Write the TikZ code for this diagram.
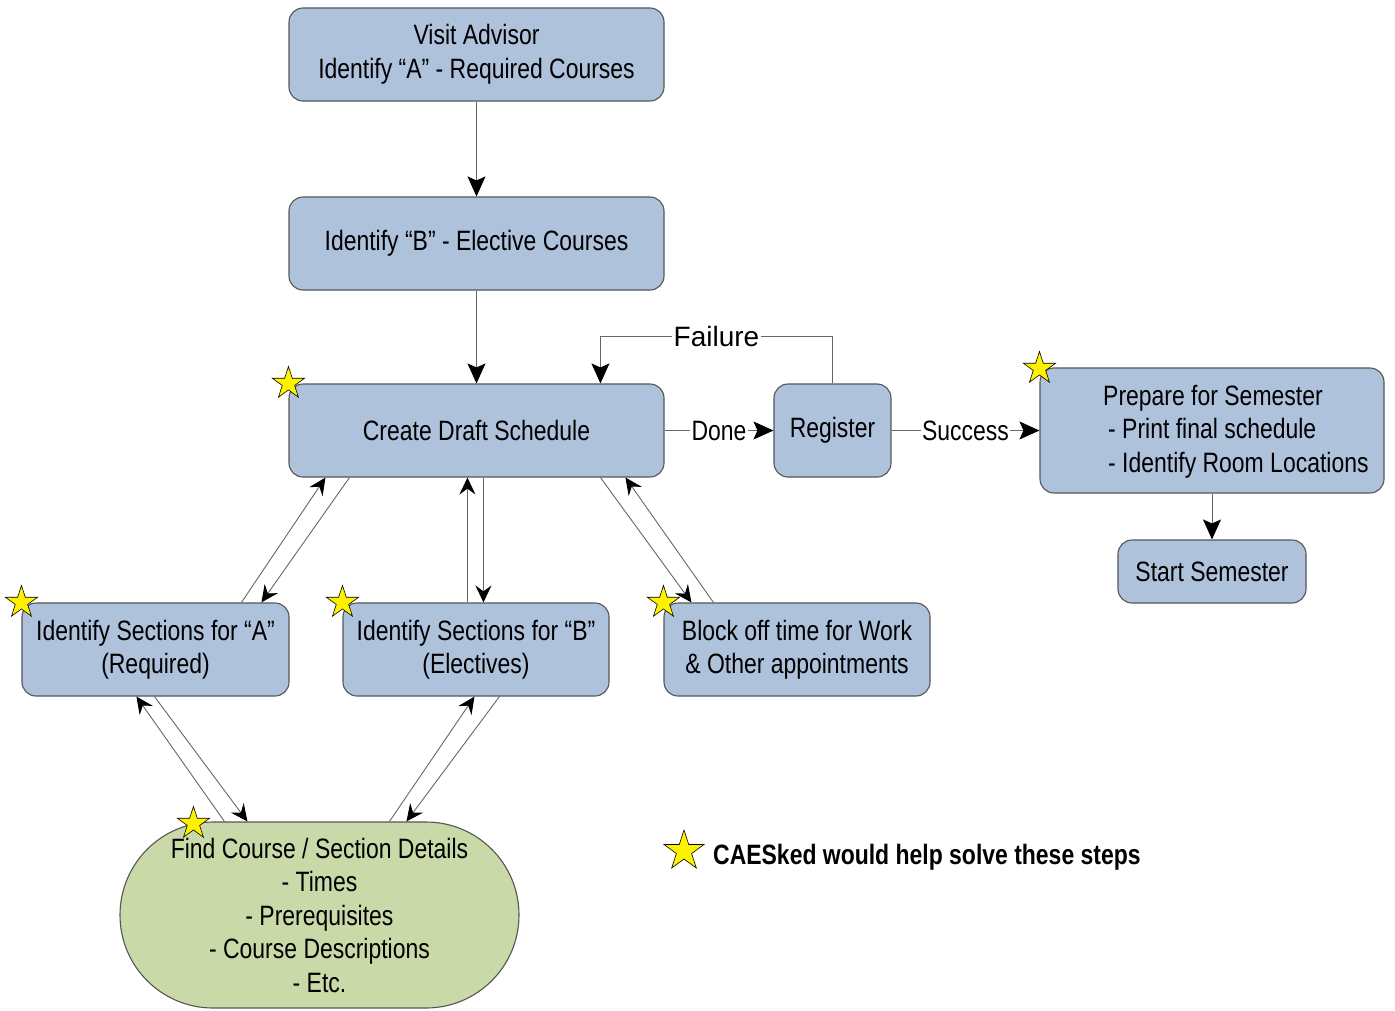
\documentclass[tikz,border=0pt]{standalone}
\usepackage{fontspec}
\setmainfont{Liberation Sans}[FakeStretch=0.82]
\newfontfamily\widesans{Liberation Sans}
\usetikzlibrary{arrows.meta,shapes.geometric,calc}
\definecolor{boxblue}{HTML}{AFC2DB}
\definecolor{boxgreen}{HTML}{C9D9A8}
\definecolor{edgegray}{HTML}{555555}
\definecolor{linegray}{HTML}{666666}
\begin{document}
\begin{tikzpicture}[x=1pt,y=-1pt,
  txt/.style={font=\fontsize{28}{33.5}\selectfont},
  stepbox/.style={txt, draw=edgegray, line width=1.1pt, fill=boxblue,
    rounded corners=14pt, align=center, inner sep=0pt},
  infobox/.style={txt, draw=edgegray, line width=1.1pt, fill=boxgreen,
    rounded corners=93pt, align=center, inner sep=0pt},
  conn/.style={draw=linegray, line width=1pt,
    -{Stealth[length=20pt,width=18pt,inset=4pt,color=black]}},
  slant/.style={draw=linegray, line width=0.9pt,
    -{Stealth[length=17pt,width=16pt,inset=6pt,color=black]}},
  lbl/.style={txt, fill=white, inner sep=1.5pt},
  goldstar/.style={star, star points=5, star point ratio=2.618,
    minimum size=34pt, inner sep=0pt, fill=yellow, draw=black, line width=0.6pt}]

\useasboundingbox (0,0) rectangle (1395,1010);

% process steps
\node[stepbox, minimum width=375pt, minimum height=93pt] (visit) at (476.5,54.5)
  {Visit Advisor\\Identify “A” - Required Courses};
\node[stepbox, minimum width=375pt, minimum height=93pt] (elect) at (476.5,243.5)
  {Identify “B” - Elective Courses};
\node[stepbox, minimum width=375pt, minimum height=93pt] (cds) at (476.5,430.5)
  {Create Draft Schedule};
\node[stepbox, minimum width=117pt, minimum height=93pt] (reg) at (832.5,430.5)
  {Register};
\node[stepbox, minimum width=344pt, minimum height=125pt] (prep) at (1212,430.5) {};
\node[txt, align=left, anchor=west, inner sep=0pt] (preptext) at (1103,431.5)
  {Prepare for Semester\\\hspace*{5pt}- Print final schedule\\\hspace*{5pt}- Identify Room Locations};
\node[stepbox, minimum width=188pt, minimum height=63pt] (start) at (1212,571.5)
  {Start Semester};
\node[stepbox, minimum width=267pt, minimum height=93pt] (secA) at (155.5,649.5)
  {Identify Sections for “A”\\(Required)};
\node[stepbox, minimum width=266pt, minimum height=93pt] (secB) at (476,649.5)
  {Identify Sections for “B”\\(Electives)};
\node[stepbox, minimum width=266pt, minimum height=93pt] (block) at (797,649.5)
  {Block off time for Work\\\& Other appointments};
\node[infobox, minimum width=399pt, minimum height=186pt] (find) at (319.5,915)
  {Find Course / Section Details\\- Times\\- Prerequisites\\- Course Descriptions\\- Etc.};

% main flow
\draw[conn] (visit) -- (elect);
\draw[conn] (elect) -- (cds);
\draw[conn] (cds) -- node[lbl]{Done} (reg);
\draw[conn] (reg) -- node[lbl]{Success} (prep);
\draw[conn] (prep) -- (start);
\coordinate (failin) at ($(cds.north west)+(312,0)$);
\draw[conn] (reg.north) -- ++(0,-47) coordinate (failtop)
  -- node[lbl, font=\widesans\fontsize{28}{33.5}\selectfont]{Failure} (failtop -| failin) -- (failin);

% back-and-forth links
\draw[slant] ($(secA.north west)+(220,0)$) -- ($(cds.south west)+(37,0)$);
\draw[slant] ($(cds.south west)+(61,0)$) -- ($(secA.north west)+(240,0)$);
\draw[slant] ($(secB.north west)+(125,0)$) -- ($(cds.south west)+(179,0)$);
\draw[slant] ($(cds.south west)+(195,0)$) -- ($(secB.north west)+(141,0)$);
\draw[slant] ($(cds.south west)+(312,0)$) -- ($(block.north west)+(28,0)$);
\draw[slant] ($(block.north west)+(50,0)$) -- ($(cds.south west)+(337,0)$);
\draw[slant] ($(find.north west)+(105,0)$) -- ($(secA.south west)+(115,0)$);
\draw[slant] ($(secA.south west)+(133,0)$) -- ($(find.north west)+(128,0)$);
\draw[slant] ($(find.north west)+(270,0)$) -- ($(secB.south west)+(132,0)$);
\draw[slant] ($(secB.south west)+(157,0)$) -- ($(find.north west)+(287,0)$);

% markers
\node[goldstar] (starcds) at (cds.north west) {};
\node[goldstar] (starA) at (secA.north west) {};
\node[goldstar] (starB) at (secB.north west) {};
\node[goldstar] (starblock) at (block.north west) {};
\node[goldstar] (starprep) at ($(prep.north west)+(0,1)$) {};
\node[goldstar] (starfind) at ($(find.north west)+(74,2)$) {};

% legend
\node[goldstar, minimum size=42pt] (legendstar) at (684,851) {};
\node[anchor=west, inner sep=0pt, font=\fontsize{28}{33}\selectfont\bfseries]
  (legendtext) at (713,857) {CAESked would help solve these steps};
\end{tikzpicture}
\end{document}
